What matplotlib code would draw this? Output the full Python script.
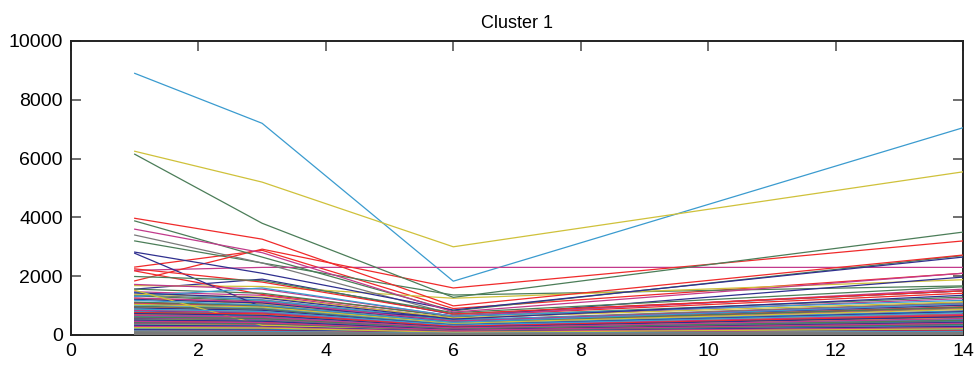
import numpy as np
import matplotlib
matplotlib.use('Agg')
import matplotlib.pyplot as plt

plt.rcParams['font.family'] = ['Liberation Sans', 'DejaVu Sans']

# sampling positions shared by every profile
x_pos = [1, 3, 6, 14]

# profiles grouped by line colour, values at x = 1, 3, 6, 14
cyan_lines = [
    [8900, 7200, 1830, 7050],
    [1310, 1600, 640, 1180],
    [1450, 1180, 520, 960],
    [1180, 1020, 430, 1060],
    [1020, 930, 370, 820],
    [930, 860, 340, 790],
    [880, 800, 330, 760],
    [790, 720, 280, 650],
    [700, 640, 260, 590],
    [640, 660, 220, 530],
    [600, 540, 210, 500],
    [560, 500, 200, 470],
    [500, 470, 180, 440],
    [450, 400, 160, 390],
    [390, 370, 140, 330],
    [340, 310, 130, 310],
    [300, 280, 110, 260],
    [260, 230, 100, 230],
    [210, 200, 80, 190],
    [170, 160, 70, 150],
    [140, 120, 60, 120],
    [100, 90, 40, 90],
    [70, 60, 30, 60],
    [40, 40, 20, 30],
]
yellow_lines = [
    [6250, 5200, 3000, 5550],
    [1680, 1650, 1250, 1880],
    [1520, 330, 190, 410],
    [1390, 1290, 580, 1130],
    [1230, 1060, 470, 920],
    [1040, 950, 400, 870],
    [930, 830, 340, 700],
    [850, 760, 300, 660],
    [720, 700, 270, 580],
    [660, 590, 230, 520],
    [580, 540, 210, 480],
    [520, 470, 170, 410],
    [470, 430, 160, 370],
    [400, 380, 140, 350],
    [350, 320, 120, 290],
    [300, 290, 110, 260],
    [250, 240, 90, 210],
    [210, 190, 80, 170],
    [160, 150, 70, 140],
    [120, 110, 50, 110],
    [80, 70, 40, 70],
    [50, 40, 20, 40],
]
green_lines = [
    [6150, 3800, 1280, 3500],
    [3880, 2650, 820, 2700],
    [3200, 2450, 1360, 1670],
    [1990, 1850, 760, 1640],
    [1560, 1420, 620, 1290],
    [1330, 1150, 500, 1010],
    [1120, 1000, 430, 940],
    [980, 890, 360, 780],
    [870, 780, 320, 720],
    [770, 700, 280, 620],
    [690, 620, 250, 570],
    [610, 560, 220, 500],
    [540, 490, 190, 450],
    [480, 440, 170, 400],
    [420, 390, 150, 360],
    [370, 330, 130, 320],
    [320, 300, 110, 270],
    [280, 250, 100, 240],
    [230, 210, 90, 200],
    [180, 170, 70, 160],
    [130, 120, 50, 120],
    [90, 80, 40, 80],
    [50, 50, 20, 50],
]
red_lines = [
    [3970, 3260, 990, 2720],
    [1840, 2920, 1600, 3200],
    [2310, 2880, 900, 2100],
    [2250, 1800, 720, 1500],
    [2180, 1380, 650, 1420],
    [1250, 1100, 480, 1080],
    [1100, 1020, 420, 960],
    [960, 900, 360, 820],
    [760, 720, 290, 660],
    [680, 630, 260, 610],
    [600, 560, 220, 520],
    [470, 430, 170, 420],
    [350, 330, 130, 310],
    [250, 230, 100, 230],
    [150, 140, 60, 140],
    [70, 60, 30, 60],
]
magenta_lines = [
    [2200, 2300, 2300, 2300],
    [3600, 2800, 780, 2100],
    [1720, 1560, 640, 1560],
    [1470, 1350, 560, 1240],
    [1260, 1130, 470, 1050],
    [1090, 990, 410, 930],
    [950, 870, 350, 800],
    [840, 770, 310, 700],
    [750, 680, 270, 640],
    [670, 610, 240, 560],
    [590, 540, 210, 510],
    [520, 480, 190, 440],
    [460, 420, 160, 400],
    [400, 370, 140, 350],
    [340, 320, 120, 300],
    [290, 270, 110, 250],
    [240, 220, 90, 210],
    [190, 180, 70, 170],
    [140, 130, 60, 130],
    [100, 90, 40, 90],
    [60, 50, 20, 50],
]
navy_lines = [
    [2820, 2100, 850, 2650],
    [2780, 950, 600, 1970],
    [1560, 1900, 700, 1500],
    [1430, 1260, 540, 1350],
    [1210, 1090, 460, 1020],
    [1060, 960, 390, 900],
    [920, 840, 340, 790],
    [820, 740, 300, 690],
    [730, 670, 260, 620],
    [650, 600, 230, 550],
    [570, 530, 210, 490],
    [510, 470, 180, 430],
    [440, 410, 160, 380],
    [380, 350, 140, 330],
    [330, 300, 120, 290],
    [280, 260, 100, 250],
    [230, 210, 90, 200],
    [180, 170, 70, 160],
    [130, 120, 50, 120],
    [90, 80, 30, 80],
    [50, 50, 20, 40],
]
gray_lines = [
    [3400, 2450, 700, 1500],
    [1360, 1200, 500, 1100],
    [620, 580, 230, 540],
    [310, 290, 120, 270],
    [110, 90, 50, 90],
    [80, 70, 40, 70],
    [60, 50, 30, 50],
    [45, 40, 25, 40],
    [30, 25, 15, 25],
    [20, 15, 10, 15],
    [10, 8, 5, 8],
    [5, 4, 2, 4],
    [70, 55, 30, 45],
    [35, 30, 20, 30],
    [15, 12, 8, 12],
    [25, 20, 12, 18],
    [8, 6, 4, 6],
    [3, 2, 1, 2],
    [50, 45, 25, 35],
    [12, 10, 6, 10],
    [40, 35, 18, 28],
    [18, 15, 9, 14],
    [6, 5, 3, 5],
    [28, 22, 14, 20],
    [2, 2, 1, 1],
    [55, 48, 28, 42],
    [22, 18, 10, 16],
]

groups = [
    (cyan_lines, '#3a9bcf'),
    (yellow_lines, '#cfc13a'),
    (green_lines, '#4b7d58'),
    (red_lines, '#f02a2a'),
    (magenta_lines, '#c23a8c'),
    (navy_lines, '#2f2f8f'),
    (gray_lines, '#7a7a7a'),
]

fig = plt.figure(figsize=(9.79, 3.67), dpi=100)
ax = fig.add_axes([0.0725, 0.0872, 0.9112, 0.8011])

# flatten to (row, colour); near-zero gray rows are kept back and drawn last
main, floor = [], []
for rows, col in groups:
    for r in rows:
        if col == '#7a7a7a' and max(r) < 120:
            floor.append((r, col))
        else:
            main.append((r, col))

# fixed stride through the list so colours mix instead of stacking by group
n = len(main)
stride = 37 if n % 37 else 41
for i in range(n):
    r, col = main[(i * stride) % n]
    ax.plot(x_pos, r, color=col, linewidth=0.9, zorder=3)
for r, col in floor:
    ax.plot(x_pos, r, color=col, linewidth=0.9, zorder=3)

ax.set_xlim(0, 14)
ax.set_ylim(0, 10000)
ax.set_xticks(np.arange(0, 15, 2))
ax.set_yticks(np.arange(0, 10001, 2000))
ax.tick_params(direction='in', length=7, width=1.2, color='#555555',
               top=True, right=True, labelsize=14, pad=6)
for sp in ax.spines.values():
    sp.set_linewidth(1.4)
    sp.set_color('#222222')
ax.set_title('Cluster 1', fontsize=13, pad=9)

fig.savefig('out.png', dpi=100)
